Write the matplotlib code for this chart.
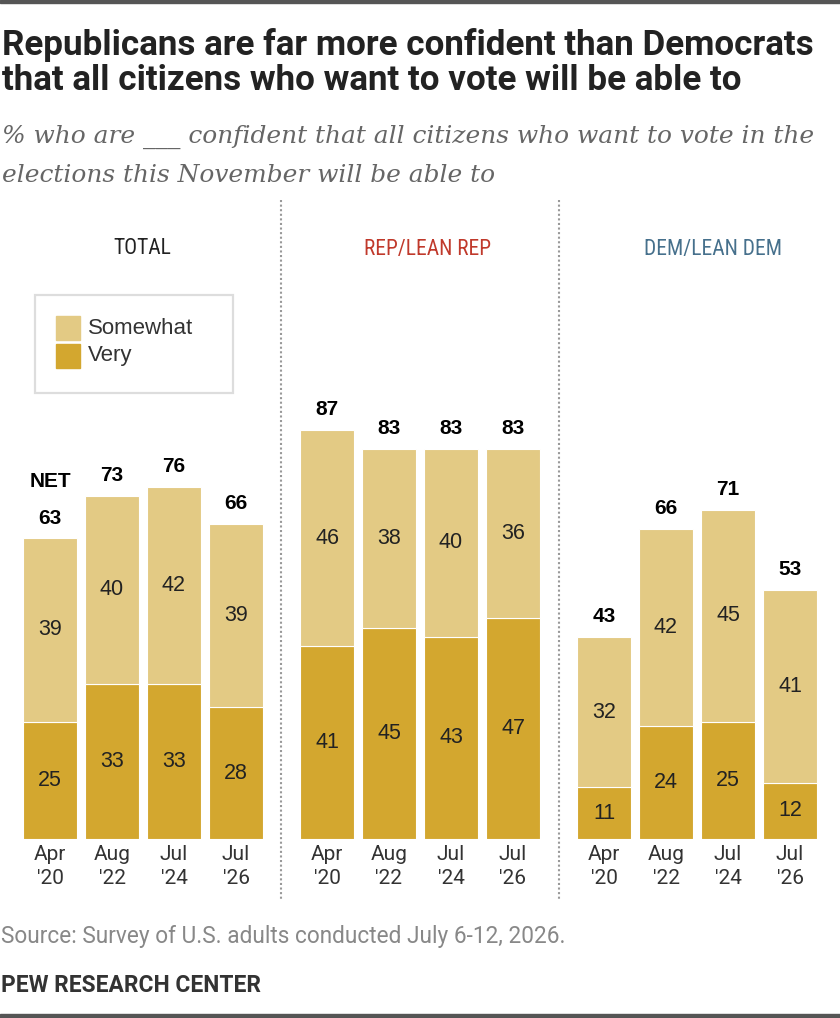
import matplotlib
matplotlib.use("Agg")
import matplotlib.pyplot as plt
from matplotlib.lines import Line2D
from matplotlib.patches import Rectangle

# data
waves = ["Apr\n'20", "Aug\n'22", "Jul\n'24", "Jul\n'26"]
groups = ["TOTAL", "REP/LEAN REP", "DEM/LEAN DEM"]
very = {
    "TOTAL": [25, 33, 33, 28],
    "REP/LEAN REP": [41, 45, 43, 47],
    "DEM/LEAN DEM": [11, 24, 25, 12],
}
somewhat = {
    "TOTAL": [39, 40, 42, 39],
    "REP/LEAN REP": [46, 38, 40, 36],
    "DEM/LEAN DEM": [32, 42, 45, 41],
}
net = {
    "TOTAL": [63, 73, 76, 66],
    "REP/LEAN REP": [87, 83, 83, 83],
    "DEM/LEAN DEM": [43, 66, 71, 53],
}

C_SOME = "#E3CA84"
C_VERY = "#D3A72F"
HEAD_COLORS = {"TOTAL": "#222222", "REP/LEAN REP": "#C0392B", "DEM/LEAN DEM": "#46708C"}

COND = "Roboto Condensed"
ROBOTO = "Roboto"
SANS = "Liberation Sans"
SERIF = "DejaVu Serif"

W, H = 840, 1018
fig = plt.figure(figsize=(W / 100, H / 100), dpi=100)


def fx(x):
    return x / W


def fy(y):
    return 1 - y / H


# top / bottom rules
fig.add_artist(Rectangle((0, fy(3)), 1, 3 / H, color="#555555", transform=fig.transFigure))
fig.add_artist(Rectangle((0, 0), 1, 4 / H, color="#555555", transform=fig.transFigure))

# title and subtitle
fig.text(fx(2), fy(45), "Republicans are far more confident than Democrats", fontsize=25.2,
         fontweight="bold", family=ROBOTO, color="#222222", va="center")
fig.text(fx(2), fy(80), "that all citizens who want to vote will be able to", fontsize=25.2,
         fontweight="bold", family=ROBOTO, color="#222222", va="center")
fig.text(fx(2), fy(137), "% who are ___ confident that all citizens who want to vote in the",
         fontsize=17.9, style="italic", family=SERIF, color="#666666", va="center")
fig.text(fx(2), fy(175), "elections this November will be able to",
         fontsize=17.9, style="italic", family=SERIF, color="#666666", va="center")

# panels
base_y = 839
px_per_unit = 4.70
lefts = [19, 296, 573]
head_x = [142, 428, 713]
panel_w = 248
for g, left, hx in zip(groups, lefts, head_x):
    ax = fig.add_axes([fx(left), fy(base_y), panel_w / W, 100 * px_per_unit / H])
    x = range(len(waves))
    v = very[g]
    s = somewhat[g]
    ax.bar(x, v, width=0.87, color=C_VERY, edgecolor="white", linewidth=0.8)
    ax.bar(x, s, bottom=v, width=0.87, color=C_SOME, edgecolor="white", linewidth=0.8)
    for i in x:
        ax.text(i, v[i] / 2, str(v[i]), ha="center", va="center", fontsize=15.5,
                family=SANS, color="#222222")
        ax.text(i, v[i] + s[i] / 2, str(s[i]), ha="center", va="center", fontsize=15.5,
                family=SANS, color="#222222")
        ax.annotate(str(net[g][i]), (i, v[i] + s[i]), xytext=(0, 14.5), textcoords="offset points",
                    ha="center", va="center", fontsize=15, fontweight="bold", family=SANS,
                    color="black", annotation_clip=False)
    if g == "TOTAL":
        ax.annotate("NET", (0, v[0] + s[0]), xytext=(0, 41), textcoords="offset points",
                    ha="center", va="center", fontsize=15, fontweight="bold", family=SANS,
                    color="black", annotation_clip=False)
    ax.set_xlim(-0.5, 3.5)
    ax.set_ylim(0, 100)
    ax.set_xticks(list(x))
    ax.set_xticklabels(waves, fontsize=15, family=ROBOTO, color="#333333", linespacing=1.3)
    ax.tick_params(axis="x", length=0, pad=4.5)
    ax.set_yticks([])
    for sp in ax.spines.values():
        sp.set_visible(False)
    ax.patch.set_alpha(0)
    fig.text(fx(hx), fy(249), g, ha="center", va="center", fontsize=15.5,
             family=COND, color=HEAD_COLORS[g])

# dotted dividers
for xd in [281, 559]:
    fig.add_artist(Line2D([fx(xd), fx(xd)], [fy(200), fy(900)], color="#999999", lw=1.5,
                          linestyle=(0, (1, 1.2)), transform=fig.transFigure))

# legend box
fig.add_artist(Rectangle((fx(35), fy(393)), 198 / W, 98 / H, facecolor="none",
                         edgecolor="#DDDDDD", lw=1.6, transform=fig.transFigure))
for lab, col, yy in [("Somewhat", C_SOME, 328), ("Very", C_VERY, 356)]:
    fig.add_artist(Rectangle((fx(56), fy(yy + 12)), 24 / W, 24 / H, color=col,
                             transform=fig.transFigure))
    fig.text(fx(88), fy(yy), lab, fontsize=16, family=SANS, color="#333333", va="center")

# footer
fig.text(fx(1), fy(937), "Source: Survey of U.S. adults conducted July 6-12, 2026.",
         fontsize=16.3, family=ROBOTO, color="#888888", va="center")
fig.text(fx(1), fy(985), "PEW RESEARCH CENTER", fontsize=16.4, fontweight="bold",
         family=ROBOTO, color="#333333", va="center")

fig.savefig("out.png", dpi=100)
